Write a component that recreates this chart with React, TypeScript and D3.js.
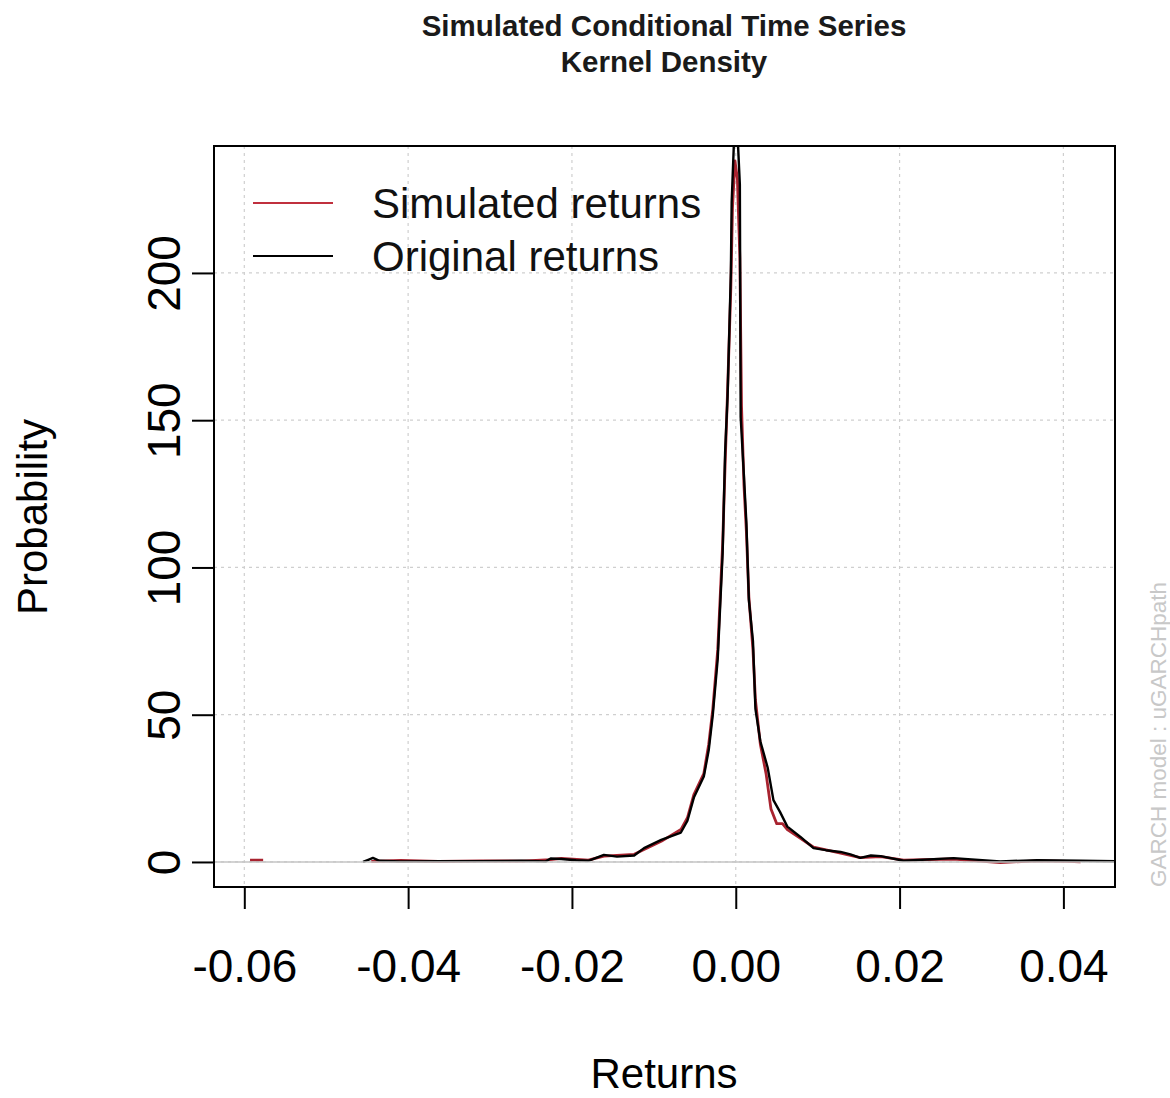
import * as d3 from 'd3';
import { useRef, useEffect } from 'react';

// AXIS TICKS
const xTicks = [-0.06, -0.04, -0.02, 0, 0.02, 0.04];
const yTicks = [0, 50, 100, 150, 200];

// ORIGINAL RETURNS - KERNEL DENSITY
const originalX = [
  -0.0455, -0.0448, -0.0443, -0.0435, -0.0409, -0.0363, -0.0311, -0.0262,
  -0.0232, -0.0226, -0.0213, -0.0195, -0.018, -0.0161, -0.0145, -0.0124,
  -0.0112, -0.0091, -0.0067, -0.0059, -0.0051, -0.0039, -0.0033, -0.0028,
  -0.0022, -0.0016, -0.0013, -0.001, -0.0006, -0.0005, -0.0002, 0, 0.0002,
  0.0005, 0.0006, 0.001, 0.0013, 0.0016, 0.0021, 0.0024, 0.003, 0.0039,
  0.0046, 0.0054, 0.0063, 0.0079, 0.0095, 0.011, 0.0128, 0.014, 0.0152,
  0.0165, 0.0177, 0.0205, 0.0266, 0.0323, 0.0368, 0.0421, 0.048,
];
const originalY = [
  0, 0.8, 1.4, 0.4, 0.2, 0.3, 0.3, 0.4, 0.2, 1.2, 1.0, 0.6, 0.4, 2.4, 1.8,
  2.2, 4.7, 7.5, 10, 14, 22, 29, 38, 50, 69, 105, 139, 158, 200, 224, 246,
  262, 248, 230, 151, 131, 115, 89, 75, 52, 41, 32, 21, 17, 12, 8.5, 4.7, 4.0,
  3.4, 2.6, 1.4, 2.2, 2.0, 0.4, 1.3, 0.2, 0.6, 0.4, 0.2,
];

// SIMULATED RETURNS - KERNEL DENSITY (null = break in the line)
const simulatedX = [
  -0.0593, -0.0577, -0.057, -0.0445, -0.0409, -0.0363, -0.0311, -0.0262,
  -0.0226, -0.0213, -0.018, -0.0161, -0.0124, -0.0112, -0.0091, -0.0067,
  -0.0059, -0.0051, -0.0039, -0.0033, -0.0028, -0.0022, -0.0016, -0.0013,
  -0.001, -0.0006, -0.0004, -0.0001, 0.0002, 0.0005, 0.0007, 0.001, 0.0013,
  0.0016, 0.0021, 0.0024, 0.003, 0.0037, 0.0043, 0.005, 0.0057, 0.0063,
  0.0079, 0.0095, 0.0128, 0.0152, 0.0177, 0.0205, 0.0266, 0.0323, 0.0368,
  0.0405, 0.0421,
];
const simulatedY = [
  0.6, 0.6, null, 0.2, 0.5, 0.2, 0.4, 0.3, 0.8, 1.2, 0.6, 2.0, 2.6, 4.2, 7.0,
  11, 15, 23, 30, 40, 52, 72, 108, 135, 160, 195, 222, 238, 232, 205, 155, 128,
  112, 90, 72, 55, 40, 30, 18, 13, 13, 11, 8, 5, 3, 1.5, 1.8, 0.6, 1.0, -0.2,
  0.4, 0.2, 0,
];

const legendItems = ['Simulated returns', 'Original returns'];
const seriesColors = ['#c0303e', '#000000'];

function App() {
  const svgRef = useRef(null);
  const width = 1170;
  const height = 1098;
  const plot = { left: 214, right: 1115, top: 146, bottom: 887 };
  const font = '"Liberation Sans", Arial, sans-serif';

  useEffect(() => {
    const svg = d3.select(svgRef.current);
    svg.selectAll('*').remove();

    const xScale = d3
      .scaleLinear()
      .domain([-0.0637, 0.0463])
      .range([plot.left, plot.right]);
    const yScale = d3
      .scaleLinear()
      .domain([-8.5, 243.1])
      .range([plot.bottom, plot.top]);

    svg
      .append('clipPath')
      .attr('id', 'plot-clip')
      .append('rect')
      .attr('x', plot.left)
      .attr('y', plot.top)
      .attr('width', plot.right - plot.left)
      .attr('height', plot.bottom - plot.top);

    // TITLE
    const title = svg
      .append('g')
      .attr('font-family', font)
      .attr('font-weight', 'bold')
      .attr('font-size', 29.5)
      .attr('text-anchor', 'middle')
      .attr('fill', '#1a1a1a');
    title.append('text').attr('x', 664).attr('y', 36).text('Simulated Conditional Time Series');
    title.append('text').attr('x', 664).attr('y', 72).text('Kernel Density');

    // GRID
    const grid = svg
      .append('g')
      .attr('stroke', '#cfcfcf')
      .attr('stroke-width', 1.2)
      .attr('stroke-dasharray', '3,4');
    grid
      .selectAll('.gx')
      .data(xTicks)
      .join('line')
      .attr('x1', (d) => xScale(d))
      .attr('x2', (d) => xScale(d))
      .attr('y1', plot.top)
      .attr('y2', plot.bottom);
    grid
      .selectAll('.gy')
      .data(yTicks)
      .join('line')
      .attr('x1', plot.left)
      .attr('x2', plot.right)
      .attr('y1', (d) => yScale(d))
      .attr('y2', (d) => yScale(d));

    // DENSITY LINES
    const line = d3
      .line()
      .defined((d) => d[1] !== null)
      .x((d) => xScale(d[0]))
      .y((d) => yScale(d[1]));

    const curves = svg.append('g').attr('clip-path', 'url(#plot-clip)').attr('fill', 'none');
    curves
      .append('path')
      .attr('d', line(simulatedX.map((x, i) => [x, simulatedY[i]])))
      .attr('stroke', '#a8232f')
      .attr('stroke-width', 2.8)
      .attr('stroke-linejoin', 'round');
    curves
      .append('path')
      .attr('d', line(originalX.map((x, i) => [x, originalY[i]])))
      .attr('stroke', '#000')
      .attr('stroke-width', 2.4)
      .attr('stroke-linejoin', 'round');

    // ZERO LINE
    svg
      .append('line')
      .attr('x1', plot.left)
      .attr('x2', plot.right)
      .attr('y1', yScale(0))
      .attr('y2', yScale(0))
      .attr('stroke', '#c4c4c4')
      .attr('stroke-width', 1.4);

    // AXES
    const xAxis = d3
      .axisBottom(xScale)
      .tickValues(xTicks)
      .tickSize(22)
      .tickPadding(40)
      .tickFormat(d3.format('.2f'));
    const xg = svg
      .append('g')
      .attr('transform', `translate(0, ${plot.bottom})`)
      .call(xAxis);
    xg.select('.domain').remove();
    xg.selectAll('line').attr('stroke', '#000').attr('stroke-width', 2);
    xg.selectAll('text')
      .attr('font-family', font)
      .attr('font-size', 46)
      .attr('fill', '#000')
      .text((d) => d3.format('.2f')(d).replace('−', '-'));

    const yAxis = d3.axisLeft(yScale).tickValues(yTicks).tickSize(22).tickFormat(d3.format('d'));
    const yg = svg
      .append('g')
      .attr('transform', `translate(${plot.left}, 0)`)
      .call(yAxis);
    yg.select('.domain').remove();
    yg.selectAll('line').attr('stroke', '#000').attr('stroke-width', 2);
    yg.selectAll('text')
      .attr('font-family', font)
      .attr('font-size', 46)
      .attr('fill', '#000')
      .attr('text-anchor', 'middle')
      .attr('dy', 0)
      .attr('x', 0)
      .attr('transform', `translate(${180 - plot.left}, 0) rotate(-90)`);

    // FRAME
    svg
      .append('rect')
      .attr('x', plot.left)
      .attr('y', plot.top)
      .attr('width', plot.right - plot.left)
      .attr('height', plot.bottom - plot.top)
      .attr('fill', 'none')
      .attr('stroke', '#000')
      .attr('stroke-width', 2);

    // AXIS LABELS
    svg
      .append('text')
      .attr('x', 664)
      .attr('y', 1088)
      .attr('text-anchor', 'middle')
      .attr('font-family', font)
      .attr('font-size', 42)
      .text('Returns');
    svg
      .append('text')
      .attr('transform', `translate(47, 517) rotate(-90)`)
      .attr('text-anchor', 'middle')
      .attr('font-family', font)
      .attr('font-size', 42)
      .text('Probability');

    // LEGEND
    const legend = svg.append('g');
    legendItems.forEach((label, i) => {
      const ly = 203 + i * 53;
      legend
        .append('line')
        .attr('x1', 253)
        .attr('x2', 333)
        .attr('y1', ly)
        .attr('y2', ly)
        .attr('stroke', seriesColors[i])
        .attr('stroke-width', 2);
      legend
        .append('text')
        .attr('x', 372)
        .attr('y', ly + 15)
        .attr('font-family', font)
        .attr('font-size', 42)
        .attr('fill', '#111')
        .text(label);
    });

    // WATERMARK
    svg
      .append('text')
      .attr('transform', `translate(1166, 887) rotate(-90)`)
      .attr('font-family', font)
      .attr('font-size', 22.5)
      .attr('fill', '#c8c8c8')
      .text('GARCH model : uGARCHpath');
  }, []);

  return (
    <div style={{ position: 'absolute', left: 0, top: 0, background: '#fff' }}>
      <svg width={width} height={height} ref={svgRef} style={{ display: 'block' }} />
    </div>
  );
}

export default App;
